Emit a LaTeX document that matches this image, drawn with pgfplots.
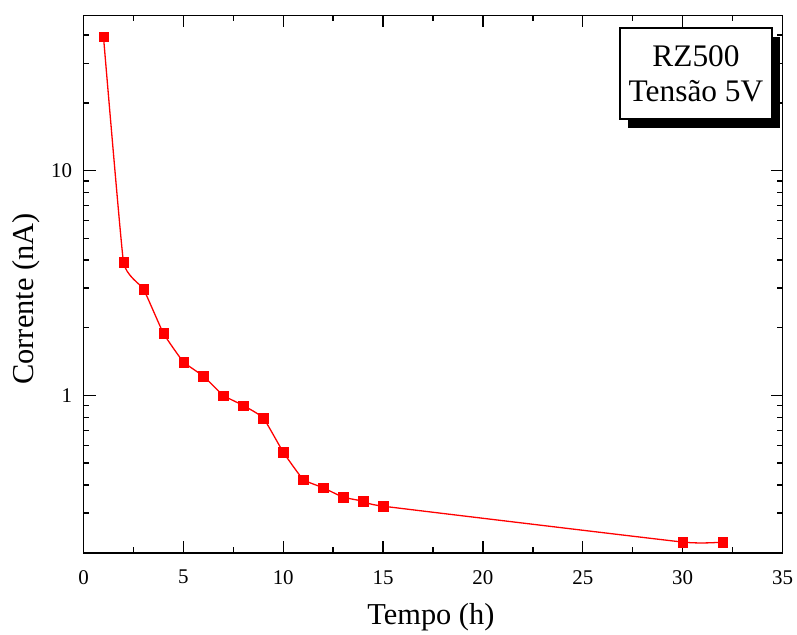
\documentclass[border=0pt]{standalone}
\usepackage{pgfplots}
\pgfplotsset{compat=1.18}
\usepackage{fontspec}
\setmainfont{Liberation Serif}
\begin{document}
\begin{tikzpicture}
\begin{axis}[
  scale only axis,
  width=699bp, height=537.4bp,
  ymode=log,
  xmin=0, xmax=35, ymin=0.2, ymax=49,
  xtick={0,5,...,35},
  xticklabels={0,5,10,15,20,25,30,35},
  minor xtick={2.5,7.5,...,32.5},
  ytick={1,10},
  yticklabels={1,10},
  minor ytick={0.2,0.3,0.4,0.5,0.6,0.7,0.8,0.9,2,3,4,5,6,7,8,9,20,30,40},
  tick align=inside,
  tick pos=both,
  major tick length=12bp,
  minor tick length=6bp,
  major tick style={black, line width=1.4bp},
  minor tick style={black, line width=1.4bp},
  axis line style={line width=1.6bp},
  ticklabel style={font=\fontsize{21}{25}\selectfont},
  yticklabel style={xshift=-8bp},
  xticklabel style={yshift=-14bp},
  xlabel={Tempo (h)},
  ylabel={Corrente (nA)},
  every axis x label/.style={at={(axis description cs:0.497,-0.1345)}, anchor=base, font=\fontsize{30.5}{34}\selectfont},
  every axis y label/.style={at={(axis description cs:-0.0715,0.472)}, anchor=base, rotate=90, font=\fontsize{30.5}{34}\selectfont},
  clip=false,
]
\addplot[red, line width=1.3bp, smooth, tension=0.2, mark=square*, mark size=4.8bp, mark options={fill=red, draw=red, line width=0.1bp}]
coordinates {
(1,39.4) (2,3.93) (3,2.98) (4,1.89) (5,1.41) (6,1.22) (7,1.0) (8,0.903) (9,0.796)
(10,0.56) (11,0.423) (12,0.389) (13,0.353) (14,0.339) (15,0.322) (30,0.223) (32,0.223)
};
\end{axis}
\fill[black] (544.5bp,424.7bp) rectangle (696.5bp,515.7bp);
\draw[line width=1.5bp, fill=white] (536.5bp,433.7bp) rectangle (688.5bp,524.7bp);
\node[align=center, font=\fontsize{31.5}{35.5}\selectfont, inner sep=0pt] at (612.5bp,479.2bp) {RZ500\\Tensão 5V};
\pgfresetboundingbox
\path (-83.5bp,-82.3bp) rectangle (713.5bp,552.7bp);
\end{tikzpicture}
\end{document}
